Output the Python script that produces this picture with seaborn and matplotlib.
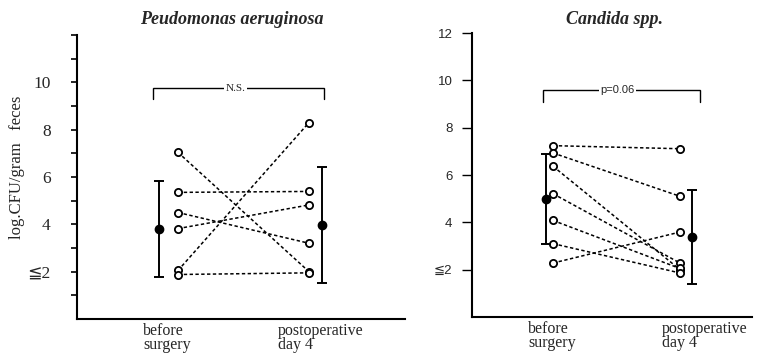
import numpy as np
import pandas as pd
import matplotlib
matplotlib.use("Agg")
import matplotlib.pyplot as plt
import seaborn as sns

# ---------------- data ----------------
timepoints = ["before\nsurgery", "postoperative\nday 4"]

pseudo_before = [7.04, 5.35, 4.50, 3.82, 2.05, 1.88]
pseudo_after = [2.00, 5.39, 3.20, 4.82, 8.30, 1.95]
pseudo_mean = [3.82, 3.96]
pseudo_sd = [2.03, 2.45]

candida_before = [7.24, 6.93, 6.37, 5.21, 4.08, 3.10, 2.28]
candida_after = [7.11, 5.10, 2.00, 2.28, 2.05, 1.86, 3.59]
candida_mean = [4.99, 3.38]
candida_sd = [1.90, 1.97]

left_ytick_labels = ["", "≦2", "", "4", "", "6", "", "8", "", "10", "", ""]
right_ytick_labels = ["≦2", "4", "6", "8", "10", "12"]

titles = ["Peudomonas aeruginosa", "Candida spp."]
ylabel = "log.CFU/gram   feces"
bracket_texts = ["N.S.", "p=0.06"]

# ---------------- style ----------------
sns.set_theme(style="ticks")
serif = ["Liberation Serif", "DejaVu Serif", "DejaVu Sans"]
sans = ["Liberation Sans", "DejaVu Sans"]
plt.rcParams["font.family"] = serif

W, H = 758, 353
fig = plt.figure(figsize=(W / 100, H / 100), dpi=100)
axL = fig.add_axes([77 / W, 1 - 319 / H, (405 - 77) / W, (319 - 35) / H])
axR = fig.add_axes([472 / W, 1 - 317 / H, (752 - 472) / W, (317 - 33) / H])


def long_df(before, after):
    n = len(before)
    return pd.DataFrame({
        "patient": list(range(n)) * 2,
        "time": [1] * n + [2] * n,
        "value": list(before) + list(after),
    })


def draw_panel(ax, before, after, mean, sd, mean_offsets, xlim, label_x):
    df = long_df(before, after)
    sns.lineplot(data=df, x="time", y="value", units="patient", estimator=None,
                 color="black", linestyle=(0, (2.2, 1.6)), linewidth=1.1,
                 marker="o", markersize=5.2, markerfacecolor="white",
                 markeredgecolor="black", markeredgewidth=1.3, ax=ax,
                 legend=False)
    xs = [1 + mean_offsets[0], 2 + mean_offsets[1]]
    ax.errorbar(xs, mean, yerr=sd, fmt="o", color="black", markersize=6,
                elinewidth=1.4, capsize=3.5, capthick=1.4, zorder=5)
    ax.set_xlim(*xlim)
    ax.set_ylim(0, 12)
    ax.set_xticks(label_x)
    ax.set_xticklabels(timepoints, ha="left", fontsize=11.5, family=serif,
                       linespacing=0.85)
    ax.tick_params(axis="x", length=0, pad=3)
    ax.set_xlabel("")
    ax.set_ylabel("")
    for s in ["top", "right"]:
        ax.spines[s].set_visible(False)
    for s in ["left", "bottom"]:
        ax.spines[s].set_linewidth(1.5)
        ax.spines[s].set_color("black")


# left panel
draw_panel(axL, pseudo_before, pseudo_after, pseudo_mean, pseudo_sd,
           (-0.145, 0.10), (0.229, 2.733), [0.733, 1.763])
axL.set_yticks(np.arange(1, 13))
axL.set_yticklabels(left_ytick_labels, fontsize=12.5, family=serif)
axL.tick_params(axis="y", length=4, width=1.2, pad=15, color="black")

# right panel
draw_panel(axR, candida_before, candida_after, candida_mean, candida_sd,
           (-0.055, 0.094), (0.362, 2.567), [0.803, 1.858])
axR.set_yticks(np.arange(2, 13, 2))
axR.set_yticklabels(right_ytick_labels, fontsize=9.5, family=sans)
axR.tick_params(axis="y", length=7, width=1.0, pad=7, color="black")


def bracket(ax, x0, x1, ytop, ybot, text, tx, fam, fs):
    ax.plot([x0, x0, x1, x1], [ybot, ytop, ytop, ybot], color="black",
            linewidth=1.0, solid_joinstyle="miter")
    ax.text(tx, ytop, text, ha="center", va="center", fontsize=fs,
            family=fam, bbox=dict(facecolor="white", edgecolor="none", pad=1.0))


bracket(axL, 0.809, 2.115, 9.76, 9.30, bracket_texts[0], 1.44, serif, 8)
bracket(axR, 0.921, 2.157, 9.60, 9.10, bracket_texts[1], 1.51, sans, 8)

# titles
fig.text(232 / W, 1 - 20 / H, titles[0], ha="center", va="center",
         fontsize=13, fontweight="bold", fontstyle="italic", family=serif)
fig.text(614 / W, 1 - 20 / H, titles[1], ha="center", va="center",
         fontsize=13, fontweight="bold", fontstyle="italic", family=serif)
fig.text(17 / W, 1 - 167 / H, ylabel, rotation=90, ha="center", va="center",
         fontsize=12, family=serif)

fig.savefig("out.png", dpi=100, facecolor="white")
